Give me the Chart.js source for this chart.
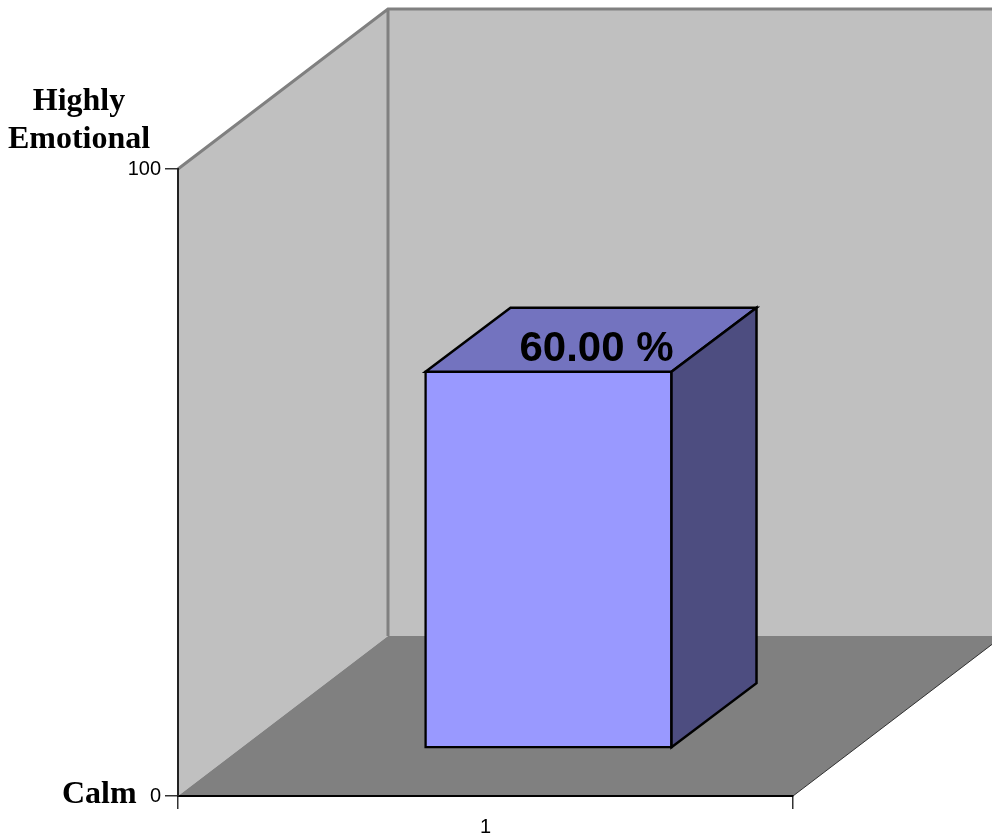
<!DOCTYPE html>
<html>
<head>
<meta charset="utf-8">
<style>
  html, body { margin: 0; padding: 0; background: #fff; }
  canvas { display: block; }
</style>
<script src="https://cdn.jsdelivr.net/npm/chart.js@4/dist/chart.umd.min.js"></script>
</head>
<body>
<canvas id="chart" width="992" height="836"></canvas>
<script>
const categories = ['1'];
const values = [60];
const axisMin = 0, axisMax = 100;
const topLabel = ['Highly', 'Emotional'];
const bottomLabel = 'Calm';

// box depth of the walls and of the bar, in px
const wallDx = 210, wallDy = 160;
const barDx = 85, barDy = 64;
const barShiftX = 63, barShiftY = 48;

function poly(ctx, pts, fill, stroke, lw) {
  ctx.beginPath();
  pts.forEach((p, i) => i ? ctx.lineTo(p[0], p[1]) : ctx.moveTo(p[0], p[1]));
  ctx.closePath();
  if (fill) { ctx.fillStyle = fill; ctx.fill(); }
  if (stroke) { ctx.strokeStyle = stroke; ctx.lineWidth = lw; ctx.lineJoin = 'miter'; ctx.stroke(); }
}

const walls = {
  id: 'walls',
  beforeDraw(chart) {
    const { ctx, chartArea: a } = chart;
    ctx.save();
    poly(ctx, [[a.left, a.top], [a.left + wallDx, a.top - wallDy], [a.left + wallDx, a.bottom - wallDy], [a.left, a.bottom]], '#c0c0c0');
    poly(ctx, [[a.left + wallDx, a.top - wallDy], [a.right + wallDx, a.top - wallDy], [a.right + wallDx, a.bottom - wallDy], [a.left + wallDx, a.bottom - wallDy]], '#c0c0c0');
    poly(ctx, [[a.left, a.bottom], [a.left + wallDx, a.bottom - wallDy], [a.right + wallDx, a.bottom - wallDy], [a.right, a.bottom]], '#808080');
    ctx.strokeStyle = '#808080';
    ctx.lineWidth = 3;
    ctx.beginPath();
    ctx.moveTo(a.left, a.top);
    ctx.lineTo(a.left + wallDx, a.top - wallDy);
    ctx.lineTo(a.right + wallDx, a.top - wallDy);
    ctx.moveTo(a.left + wallDx, a.top - wallDy);
    ctx.lineTo(a.left + wallDx, a.bottom - wallDy);
    ctx.stroke();
    ctx.strokeStyle = '#333';
    ctx.lineWidth = 1;
    ctx.beginPath();
    ctx.moveTo(a.right, a.bottom);
    ctx.lineTo(a.right + wallDx, a.bottom - wallDy);
    ctx.stroke();
    ctx.restore();
  }
};

const bar3d = {
  id: 'bar3d',
  beforeDatasetDraw(chart) {
    chart.ctx.save();
    chart.ctx.translate(barShiftX, -barShiftY);
  },
  afterDatasetDraw(chart, args) {
    const { ctx } = chart;
    args.meta.data.forEach(el => {
      const { x, y, base, width } = el.getProps(['x', 'y', 'base', 'width'], true);
      const l = x - width / 2, r = x + width / 2;
      poly(ctx, [[l, y], [l + barDx, y - barDy], [r + barDx, y - barDy], [r, y]], '#7373bf', '#000', 2.5);
      poly(ctx, [[r, y], [r + barDx, y - barDy], [r + barDx, base - barDy], [r, base]], '#4d4d80', '#000', 2.5);
    });
    ctx.restore();
  },
  afterDatasetsDraw(chart) {
    const { ctx } = chart;
    const el = chart.getDatasetMeta(0).data[0];
    const { x, y } = el.getProps(['x', 'y'], true);
    ctx.save();
    ctx.fillStyle = '#000';
    ctx.textAlign = 'center';
    ctx.font = 'bold 42px "Liberation Sans"';
    ctx.fillText(values[0].toFixed(2) + ' %', x + barShiftX + 48, y - barShiftY - 11);
    ctx.font = 'bold 32px "Liberation Serif"';
    ctx.fillText(topLabel[0], 79, 110);
    ctx.fillText(topLabel[1], 79, 148);
    ctx.textAlign = 'left';
    ctx.fillText(bottomLabel, 62, 803);
    ctx.restore();
  }
};

new Chart(document.getElementById('chart'), {
  type: 'bar',
  data: {
    labels: categories,
    datasets: [{
      data: values,
      backgroundColor: '#9999ff',
      borderColor: '#000',
      borderWidth: 2.5,
      borderSkipped: false,
      inflateAmount: 1.25,
      barPercentage: 0.4,
      categoryPercentage: 1,
      clip: false
    }]
  },
  options: {
    responsive: false,
    animation: false,
    layout: { padding: { top: 169, right: 199, left: 0, bottom: 0 } },
    plugins: { legend: { display: false }, tooltip: { enabled: false } },
    scales: {
      x: {
        afterFit(s) { s.height = 40; },
        grid: { drawOnChartArea: false, tickLength: 13, lineWidth: 1.5, color: '#333', tickColor: '#333' },
        border: { color: '#000', width: 2 },
        ticks: { color: '#000', font: { family: 'Liberation Sans', size: 20 }, padding: 6 }
      },
      y: {
        min: axisMin,
        max: axisMax,
        afterFit(s) { s.width = 178; },
        grid: { drawOnChartArea: false, tickLength: 13, lineWidth: 1.5, color: '#333', tickColor: '#333' },
        border: { color: '#222', width: 2 },
        ticks: { stepSize: 100, color: '#000', font: { family: 'Liberation Sans', size: 20 }, padding: 4 }
      }
    }
  },
  plugins: [walls, bar3d]
});
</script>
</body>
</html>
